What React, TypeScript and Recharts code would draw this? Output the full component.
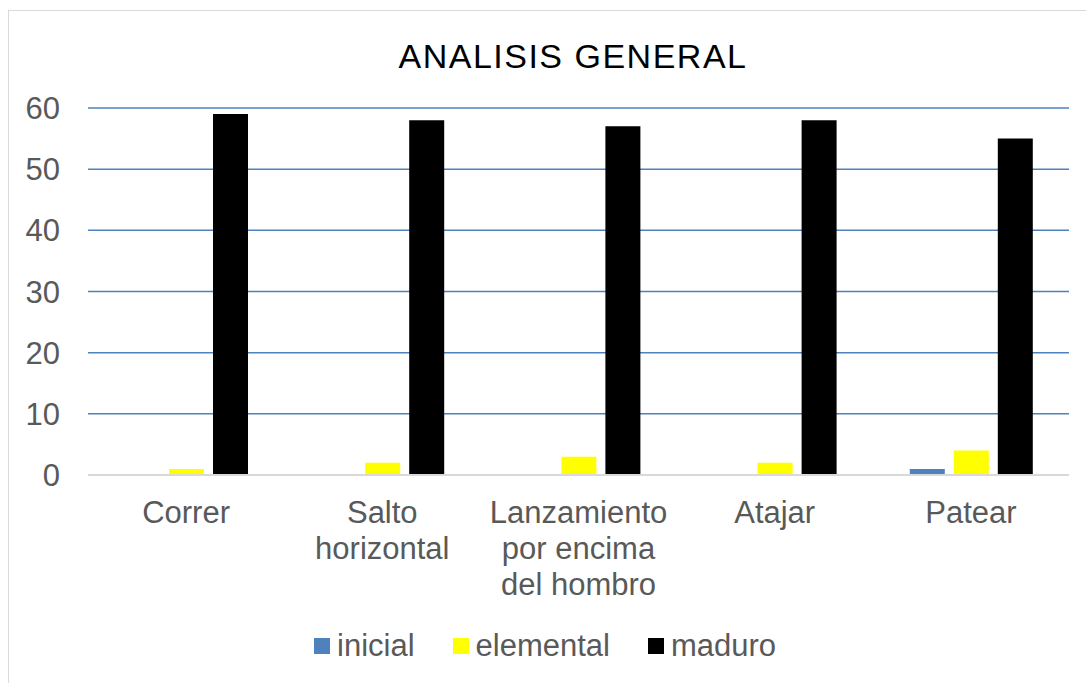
import { BarChart, Bar, XAxis, YAxis, CartesianGrid } from "recharts";

const categories = ["Correr", "Salto horizontal", "Lanzamiento por encima del hombro", "Atajar", "Patear"];
const tickLines = [["Correr"], ["Salto", "horizontal"], ["Lanzamiento", "por encima", "del hombro"], ["Atajar"], ["Patear"]];
const inicial = [0, 0, 0, 0, 1];
const elemental = [1, 2, 3, 2, 4];
const maduro = [59, 58, 57, 58, 55];
const yTicks = [0, 10, 20, 30, 40, 50, 60];

const SERIES = [
  { key: "inicial", color: "#4F81BD" },
  { key: "elemental", color: "#FFFF00" },
  { key: "maduro", color: "#000000" },
];

const FONT = "'Liberation Sans', Arial, sans-serif";
const TEXT = "#595959";

const data = categories.map((name, i) => ({
  name,
  inicial: inicial[i],
  elemental: elemental[i],
  maduro: maduro[i],
}));

function CategoryTick(props: any) {
  const { x, y, index } = props;
  const lines = tickLines[index] ?? [String(props.payload?.value)];
  return (
    <g>
      {lines.map((line: string, i: number) => (
        <text
          key={i}
          x={x}
          y={y + 48 + i * 36}
          textAnchor="middle"
          fill={TEXT}
          fontSize={31}
          fontFamily={FONT}
        >
          {line}
        </text>
      ))}
    </g>
  );
}

export default function App() {
  return (
    <div
      style={{
        position: "fixed",
        left: 0,
        top: 0,
        width: 1086,
        height: 683,
        overflow: "hidden",
        background: "#fff",
      }}
    >
      <div
        style={{
          position: "absolute",
          left: 8,
          top: 10,
          width: 1100,
          height: 700,
          borderLeft: "1.5px solid #d9d9d9",
          borderTop: "1.5px solid #d9d9d9",
        }}
      />
      <div
        style={{
          position: "absolute",
          left: 0,
          width: 1146,
          top: 36,
          textAlign: "center",
          fontFamily: FONT,
          fontSize: 34,
          letterSpacing: 1.5,
          color: "#000",
          lineHeight: "40px",
        }}
      >
        ANALISIS GENERAL
      </div>
      <div style={{ position: "absolute", left: 0, top: 0 }}>
        <BarChart
          width={1086}
          height={683}
          data={data}
          margin={{ top: 108, right: 17, bottom: 0, left: 0 }}
          barGap={9}
          barSize={35}
        >
          <CartesianGrid vertical={false} stroke="#4F81BD" strokeWidth={1.5} />
          <XAxis
            dataKey="name"
            tick={<CategoryTick />}
            tickLine={false}
            tickSize={0}
            tickMargin={0}
            axisLine={{ stroke: "#d9d9d9", strokeWidth: 2 }}
            interval={0}
            height={208}
          />
          <YAxis
            width={88}
            domain={[0, 60]}
            ticks={yTicks}
            interval={0}
            axisLine={false}
            tickLine={false}
            tickSize={0}
            tickMargin={28}
            tick={{ fill: TEXT, fontSize: 31, fontFamily: FONT }}
          />
          {SERIES.map((s) => (
            <Bar key={s.key} dataKey={s.key} fill={s.color} isAnimationActive={false} />
          ))}
        </BarChart>
      </div>
      <div
        style={{
          position: "absolute",
          left: 314,
          top: 628,
          display: "flex",
          alignItems: "center",
          gap: 38,
          fontFamily: FONT,
          fontSize: 31,
          color: TEXT,
          lineHeight: "36px",
        }}
      >
        {SERIES.map((s) => (
          <div key={s.key} style={{ display: "flex", alignItems: "center", gap: 7 }}>
            <span style={{ width: 16, height: 16, background: s.color, display: "inline-block" }} />
            <span>{s.key}</span>
          </div>
        ))}
      </div>
    </div>
  );
}
